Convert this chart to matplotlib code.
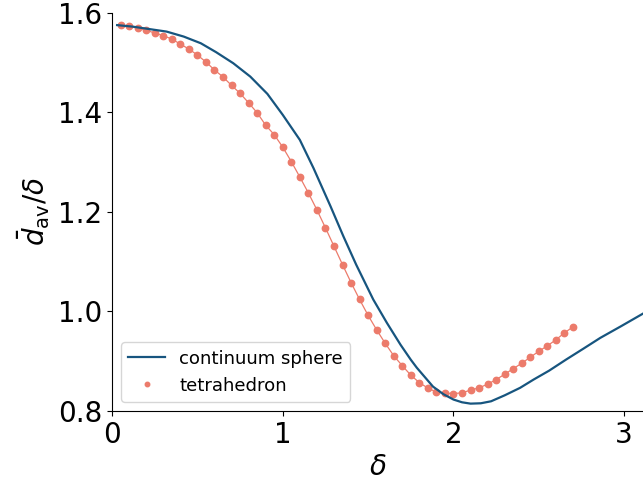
import matplotlib
matplotlib.use("Agg")
import matplotlib.pyplot as plt

# continuum sphere curve
sphere_x = [0.03, 0.12, 0.22, 0.32, 0.42, 0.52, 0.61, 0.71, 0.81, 0.91, 1.00,
            1.10, 1.18, 1.28, 1.355, 1.43, 1.53, 1.61, 1.69, 1.75, 1.785, 1.88,
            1.94, 2.00, 2.05, 2.10, 2.16, 2.22, 2.30, 2.39, 2.47, 2.56, 2.66,
            2.76, 2.86, 2.98, 3.11]
sphere_y = [1.575, 1.572, 1.567, 1.562, 1.552, 1.5386, 1.5206, 1.4985, 1.4716,
            1.4369, 1.3948, 1.3446, 1.2879, 1.211, 1.151, 1.094, 1.024, 0.977,
            0.933, 0.903, 0.887, 0.849,
            0.834, 0.823, 0.8175, 0.8148, 0.8155, 0.8195, 0.8315, 0.8465, 0.8633,
            0.881, 0.9034, 0.925, 0.9469, 0.970, 0.9956]

# tetrahedron points
tet_x = [round(0.05 * i, 2) for i in range(1, 55)]
tet_y = [1.575, 1.573, 1.569, 1.565, 1.559, 1.554, 1.547, 1.537, 1.527, 1.515,
         1.501, 1.485, 1.471, 1.454, 1.438, 1.419, 1.399, 1.374, 1.355, 1.330,
         1.301, 1.270, 1.238, 1.204, 1.168, 1.131, 1.094, 1.058, 1.024, 0.992,
         0.963,
         0.936, 0.911, 0.891, 0.872, 0.857, 0.846, 0.838, 0.836, 0.835, 0.8365,
         0.842, 0.8465, 0.854, 0.863, 0.874, 0.885, 0.896, 0.908, 0.920, 0.931,
         0.943, 0.957, 0.969]

blue = "#17557f"
salmon = "#ec7b6b"

fig = plt.figure(figsize=(6.43, 4.82), dpi=100)
ax = fig.add_axes([0.1742, 0.1473, 0.8258, 0.8264])

ax.plot(sphere_x, sphere_y, color=blue, lw=1.6, label="continuum sphere", zorder=3)
ax.plot(tet_x, tet_y, color=salmon, lw=0.9, zorder=2)
ax.plot(tet_x, tet_y, 'o', color=salmon, ms=4.6, label="tetrahedron", zorder=2)

ax.set_xlim(0, 3.11)
ax.set_ylim(0.8, 1.6)
ax.set_xticks([0, 1, 2, 3])
ax.set_yticks([0.8, 1.0, 1.2, 1.4, 1.6])
ax.set_yticklabels(["0.8", "1.0", "1.2", "1.4", "1.6"])
ax.tick_params(labelsize=20)
ax.spines["top"].set_visible(False)
ax.spines["right"].set_visible(False)
ax.set_xlabel(r"$\delta$", fontsize=20, labelpad=3)
ax.set_ylabel(r"$\bar{d}_{\rm av}/\delta$", fontsize=20, labelpad=4)
ax.legend(loc="lower left", fontsize=13.1, markerscale=0.7, handlelength=2.0)

fig.savefig("out.png", dpi=100)
